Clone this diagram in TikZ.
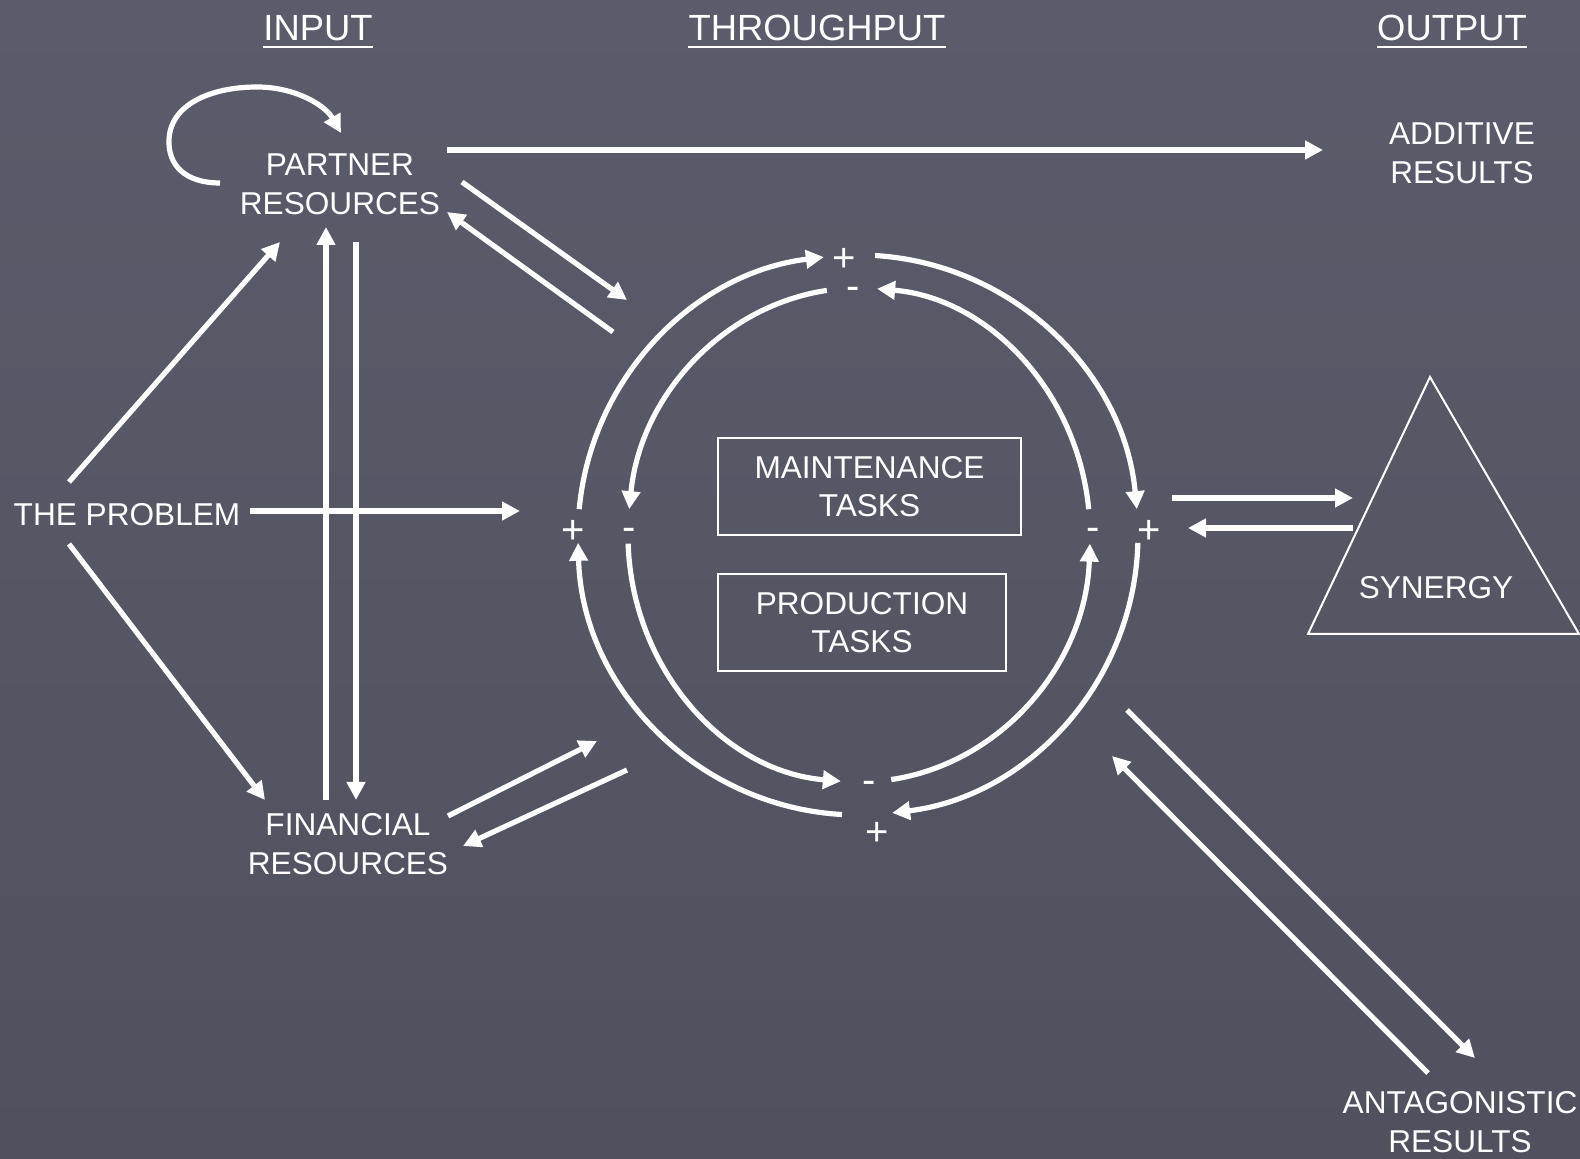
\documentclass[tikz,border=0pt]{standalone}
\usepackage{fontspec}
\setmainfont{Liberation Sans}
\usetikzlibrary{arrows.meta}
\definecolor{bgtop}{HTML}{5B5C6B}
\definecolor{bgbot}{HTML}{50515E}

\begin{document}
\begin{tikzpicture}[x=0.5pt,y=-0.5pt,
  conn/.style={draw=white,line width=2.6pt,-{Triangle[length=9pt,width=9pt]}},
  lbl/.style={text=white,font=\fontsize{15.8}{19.3}\selectfont,align=center,inner sep=0pt},
  ttl/.style={text=white,font=\fontsize{18.2}{22}\selectfont,inner sep=0pt,anchor=base},
  sgn/.style={text=white,font=\fontsize{20}{24}\selectfont,inner sep=0pt,anchor=base},
  taskbox/.style={lbl,draw=white,line width=1pt,minimum height=48.5pt},
  uline/.style={draw=white,line width=1.2pt}
]
% canvas
\useasboundingbox (0,0) rectangle (1580,1159);
\shade[top color=bgtop,bottom color=bgbot] (0,0) rectangle (1580,1159);

% column headings
\node[ttl] (hin)  at (318,41)  {INPUT};
\node[ttl] (hthr) at (817,41)  {THROUGHPUT};
\node[ttl] (hout) at (1452,41) {OUTPUT};
\foreach \h in {hin,hthr,hout}
  \draw[uline] ([yshift=-3pt]\h.base west) -- ([yshift=-3pt]\h.base east);

% inputs and outputs
\node[lbl] (partner) at (340,184) {PARTNER\\RESOURCES};
\node[lbl] (problem) at (127,515) {THE PROBLEM};
\node[lbl] (finance) at (348,844) {FINANCIAL\\RESOURCES};
\node[lbl] (additive) at (1462,153) {ADDITIVE\\RESULTS};
\node[lbl] (antag) at (1460,1122) {ANTAGONISTIC\\RESULTS};

% task boxes
\node[taskbox,minimum width=151.5pt] (maint) at (869.5,486.5) {MAINTENANCE\\TASKS};
\node[taskbox,minimum width=144pt] (prod) at (862,622.5) {PRODUCTION\\TASKS};

% synergy triangle
\coordinate (triA) at (1430,377);
\coordinate (triB) at (1308,634);
\coordinate (triC) at (1579,634);
\draw[white,line width=1pt,line join=miter] (triA) -- (triB) -- (triC) -- cycle;
\node[lbl] (synergy) at (1436,588) {SYNERGY};

% signs around the loop
\node[sgn] (ptop)  at (844,272) {+};
\node[sgn] (mtop)  at (853,300) {-};
\node[sgn] (pleft) at (573,544) {+};
\node[sgn] (mleft) at (629,541) {-};
\node[sgn] (mright) at (1093,541) {-};
\node[sgn] (pright) at (1149,544) {+};
\node[sgn] (mbot)  at (869,794) {-};
\node[sgn] (pbot)  at (877,846) {+};

% connector end points
\coordinate (loopS) at (220,183);
\coordinate (loopE) at (341,133);
\coordinate (prA) at (447,150);
\coordinate (adA) at (1323,150);
\coordinate (prB) at (462,182);
\coordinate (ciB) at (627,300);
\coordinate (ciC) at (613,332);
\coordinate (prC) at (447,212);
\coordinate (pbU) at (69,482);
\coordinate (prU) at (280,242);
\coordinate (pbD) at (69,544);
\coordinate (fiD) at (265,800);
\coordinate (pbH) at (250,511);
\coordinate (ciH) at (520,511);
\coordinate (fiV1) at (326,800);
\coordinate (prV1) at (326,227);
\coordinate (prV2) at (356,242);
\coordinate (fiV2) at (356,800);
\coordinate (fiE) at (448,816);
\coordinate (ciE) at (597,741);
\coordinate (ciF) at (627,770);
\coordinate (fiF) at (463,846);
\coordinate (ciS) at (1172,498);
\coordinate (syS) at (1353,498);
\coordinate (syT) at (1353,528);
\coordinate (ciT) at (1188,528);
\coordinate (ciG) at (1127,710);
\coordinate (anG) at (1475,1058);
\coordinate (anH) at (1428,1073);
\coordinate (ciH2) at (1112,756);

% partner resources feedback loop
\draw[conn] (loopS) .. controls (185,183) and (168,165) .. (169,140)
  .. controls (170,105) and (210,87) .. (257,87)
  .. controls (295,87) and (325,105) .. (loopE);

% straight connectors
\draw[conn] (prA) -- (adA);
\draw[conn] (prB) -- (ciB);
\draw[conn] (ciC) -- (prC);
\draw[conn] (pbU) -- (prU);
\draw[conn] (pbD) -- (fiD);
\draw[conn] (pbH) -- (ciH);
\draw[conn] (fiV1) -- (prV1);
\draw[conn] (prV2) -- (fiV2);
\draw[conn] (fiE) -- (ciE);
\draw[conn] (ciF) -- (fiF);
\draw[conn] (ciS) -- (syS);
\draw[conn] (syT) -- (ciT);
\draw[conn] (ciG) -- (anG);
\draw[conn] (anH) -- (ciH2);

% the throughput loop: outer ring
\coordinate (oc) at (858,535);
\draw[conn] (oc) ++(185.3:280) arc[start angle=185.3,end angle=263,radius=280];
\draw[conn] (oc) ++(273.5:280) arc[start angle=273.5,end angle=354.7,radius=280];
\draw[conn] (oc) ++(93.3:280) arc[start angle=93.3,end angle=178.4,radius=280];
\draw[conn] (oc) ++(1.6:280) arc[start angle=1.6,end angle=83,radius=280];

% inner ring
\coordinate (ic) at (859,535);
\draw[conn] (ic) ++(262:231 and 247) arc[start angle=262,end angle=186,x radius=231,y radius=247];
\draw[conn] (ic) ++(354:231 and 247) arc[start angle=354,end angle=274.5,x radius=231,y radius=247];
\draw[conn] (ic) ++(178:231 and 247) arc[start angle=178,end angle=94.5,x radius=231,y radius=247];
\draw[conn] (ic) ++(82:231 and 247) arc[start angle=82,end angle=2,x radius=231,y radius=247];
\end{tikzpicture}
\end{document}
